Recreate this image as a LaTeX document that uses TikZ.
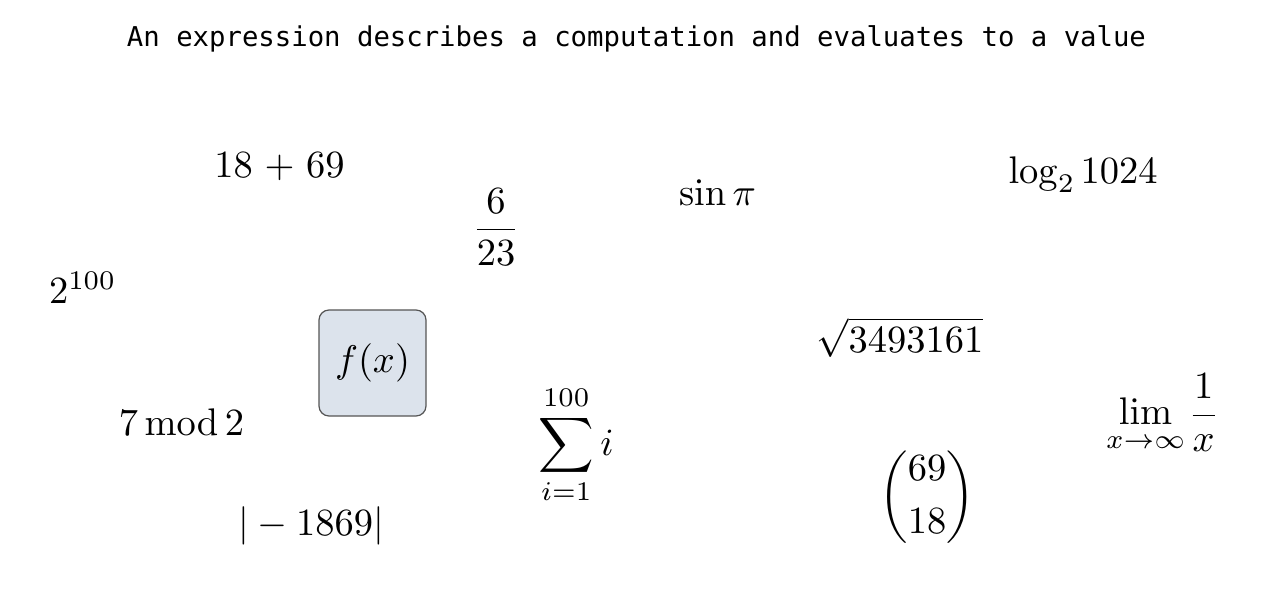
\documentclass[tikz,border=0pt]{standalone}
\usepackage{amsmath}
\usepackage[no-math]{fontspec}
\setmonofont{DejaVu Sans Mono}
\DeclareFontShape{OT1}{cmr}{m}{n}{<-24>cmr5<24-34>cmr7<34->cmr10}{}
\DeclareFontShape{OML}{cmm}{m}{it}{<-24>cmmi5<24-34>cmmi7<34->cmmi10}{}
\DeclareFontShape{OMS}{cmsy}{m}{n}{<-24>cmsy5<24-34>cmsy7<34->cmsy10}{}
\DeclareFontFamily{OMX}{cmex}{}
\DeclareFontShape{OMX}{cmex}{m}{n}{<->cmex10}{}
\definecolor{boxfill}{HTML}{DCE3EC}
\definecolor{boxline}{HTML}{555555}
\tikzset{
  expr/.style={inner sep=0pt, font=\fontsize{38.5}{46}\selectfont},
  funcbox/.style={draw=boxline, fill=boxfill, rounded corners=10pt, line width=1.2pt,
    minimum width=107pt, minimum height=106pt, inner sep=0pt, font=\fontsize{38.5}{46}\selectfont},
  titletext/.style={inner sep=0pt, font=\fontsize{27.3}{32}\selectfont\ttfamily}
}
\begin{document}
\begin{tikzpicture}[x=1pt,y=-1pt]
\useasboundingbox (0,0) rectangle (1280,589);
\node[titletext, anchor=base] (title) at (636.5,46) {An expression describes a computation and evaluates to a value};
\node[expr, anchor=base] (add) at (279.5,177) {$18\mathbin{\mkern1.5mu+\mkern1.5mu}69$};
\node[expr] (frac) at (496,227) {$\dfrac{6}{23}$};
\node[expr, anchor=base] (sin) at (717.5,205) {$\sin\pi$};
\node[expr, anchor=base] (log) at (1083,183) {$\log_2 1024$};
\node[expr, anchor=base] (pow) at (82,303) {$2^{100}$};
\node[funcbox] (f) at (372.5,363) {$f(x)$};
\node[expr, anchor=base] (sqrt) at (900,352) {$\sqrt{3493161}$};
\node[expr, anchor=base] (mod) at (181.5,435) {$7\mkern3mu\mathrm{mod}\mkern3mu2$};
\node[expr] (sum) at (576,445) {$\displaystyle\sum_{i=1}^{100} i$};
\node[expr] (lim) at (1161,413) {$\displaystyle\lim_{x\to\infty}\frac{1}{x}$};
\node[expr] (binom) at (927,497) {$\dbinom{69}{18}$};
\node[expr, anchor=base] (abs) at (311,535) {$|-1869|$};
\end{tikzpicture}
\end{document}
